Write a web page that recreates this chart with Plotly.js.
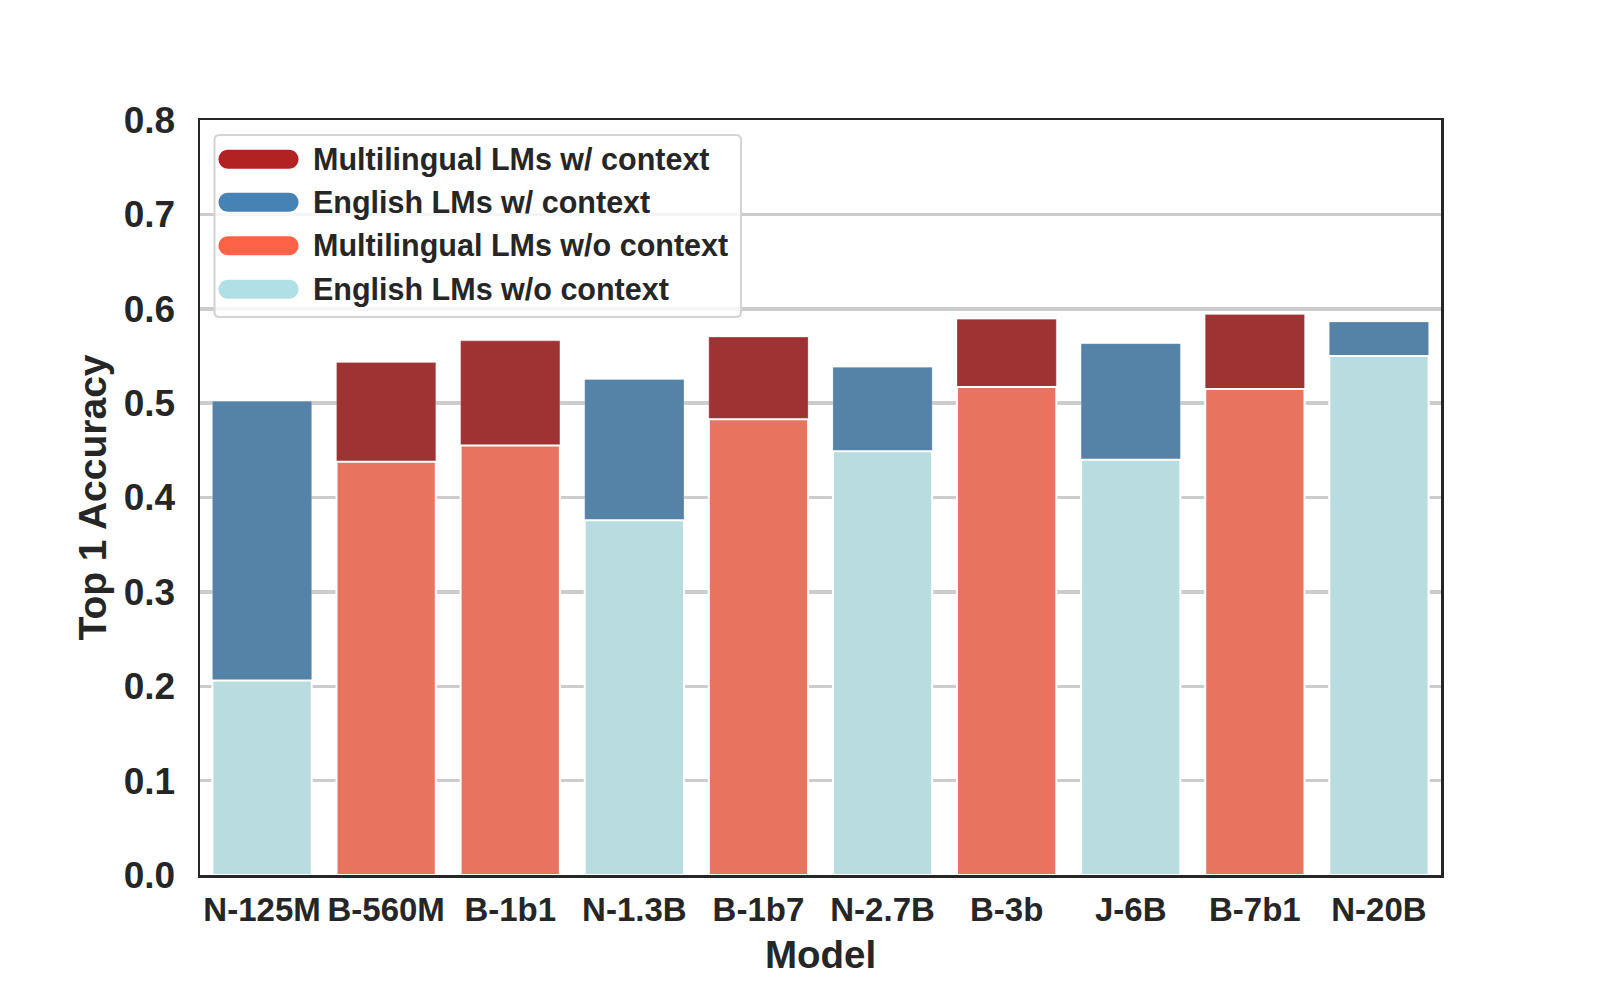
<!DOCTYPE html>
<html>
<head>
<meta charset="utf-8">
<script src="https://cdn.plot.ly/plotly-3.0.1.min.js"></script>
<style>
  html, body { margin: 0; padding: 0; background: #fff; }
  #chart { width: 1600px; height: 1000px; }
</style>
</head>
<body>
<div id="chart"></div>
<script>
// model names on the x axis
const models = ['N-125M', 'B-560M', 'B-1b1', 'N-1.3B', 'B-1b7', 'N-2.7B', 'B-3b', 'J-6B', 'B-7b1', 'N-20B'];
// true = multilingual LM (BLOOM), false = English LM
const multilingual = [false, true, true, false, true, false, true, false, true, false];
// top-1 accuracy with context / without context
const accWithCtx = [0.502, 0.543, 0.566, 0.525, 0.570, 0.538, 0.589, 0.563, 0.594, 0.586];
const accNoCtx = [0.206, 0.438, 0.455, 0.376, 0.483, 0.449, 0.517, 0.440, 0.515, 0.550];

const legendNames = ['Multilingual LMs w/ context', 'English LMs w/ context',
                     'Multilingual LMs w/o context', 'English LMs w/o context'];

// legend colours and the desaturated versions used on the bars
const legendColors = ['#b22222', '#4682b4', '#ff6347', '#b0e0e6'];
const barCtx = { multi: '#9f3334', eng: '#5582a7' };
const barNoCtx = { multi: '#e8735f', eng: '#b8dce0' };

const FONT = '"Liberation Sans", Arial, sans-serif';
const INK = '#262626';

const traces = [
  {
    type: 'bar', x: models, y: accWithCtx, width: 0.8, showlegend: false,
    marker: { color: multilingual.map(m => m ? barCtx.multi : barCtx.eng),
              line: { color: 'rgba(255,255,255,0.25)', width: 1 } },
    hoverinfo: 'x+y'
  },
  {
    type: 'bar', x: models, y: accNoCtx, width: 0.8, showlegend: false,
    marker: { color: multilingual.map(m => m ? barNoCtx.multi : barNoCtx.eng),
              line: { color: '#ffffff', width: 2 } },
    hoverinfo: 'x+y'
  }
];

// --- legend drawn by hand (thick rounded line swatches), pixel offsets from the plot's top-left corner
function pill(x0, x1, cy, r) {
  const k = 0.5523 * r;
  const t = cy + r, b = cy - r;
  return `M${x0},${t} L${x1},${t} ` +
    `C${x1 + k},${t} ${x1 + r},${cy + k} ${x1 + r},${cy} ` +
    `C${x1 + r},${cy - k} ${x1 + k},${b} ${x1},${b} ` +
    `L${x0},${b} ` +
    `C${x0 - k},${b} ${x0 - r},${cy - k} ${x0 - r},${cy} ` +
    `C${x0 - r},${cy + k} ${x0 - k},${t} ${x0},${t} Z`;
}
function roundRect(x0, x1, y0, y1, r) {
  // y0 top (higher), y1 bottom
  return `M${x0 + r},${y0} L${x1 - r},${y0} Q${x1},${y0} ${x1},${y0 - r} ` +
    `L${x1},${y1 + r} Q${x1},${y1} ${x1 - r},${y1} ` +
    `L${x0 + r},${y1} Q${x0},${y1} ${x0},${y1 + r} ` +
    `L${x0},${y0 - r} Q${x0},${y0} ${x0 + r},${y0} Z`;
}
const pixShape = { xref: 'paper', yref: 'paper', xsizemode: 'pixel', ysizemode: 'pixel',
                   xanchor: 0, yanchor: 1, layer: 'above' };
const itemY = [-39.3, -82.3, -125.7, -169.3];

const shapes = [
  Object.assign({}, pixShape, {
    type: 'path', path: roundRect(14.5, 541, -15, -197, 5),
    fillcolor: 'rgba(255,255,255,0.8)', line: { color: '#d3d3d3', width: 2 }
  })
];
const annotations = [];
legendNames.forEach((name, i) => {
  shapes.push(Object.assign({}, pixShape, {
    type: 'path', path: pill(28, 89, itemY[i], 9.5),
    fillcolor: legendColors[i], line: { width: 0 }
  }));
  annotations.push({
    xref: 'paper', yref: 'paper', x: 0, y: 1, xshift: 111, yshift: itemY[i],
    xanchor: 'left', yanchor: 'middle', showarrow: false, text: name,
    font: { size: 30.5, family: FONT, color: INK, weight: 'bold' }
  });
});

const layout = {
  width: 1600, height: 1000,
  margin: { l: 200, r: 159, t: 120, b: 125 },
  paper_bgcolor: '#ffffff', plot_bgcolor: '#ffffff',
  barmode: 'overlay', showlegend: false,
  font: { family: FONT, color: INK },
  xaxis: {
    range: [-0.5, 9.5],
    showline: true, mirror: true, linecolor: INK, linewidth: 2.5,
    showgrid: false, ticks: '', zeroline: false, ticklabelstandoff: 4,
    tickfont: { size: 33, family: FONT, color: INK, weight: 'bold' },
    title: { text: 'Model', font: { size: 38.5, family: FONT, color: INK, weight: 'bold' }, standoff: 14 }
  },
  yaxis: {
    range: [0, 0.8], dtick: 0.1, tickformat: '.1f',
    showline: true, mirror: true, linecolor: INK, linewidth: 2.5,
    showgrid: true, gridcolor: '#cccccc', gridwidth: 3.5,
    ticks: '', zeroline: false, ticklabelstandoff: 15,
    tickfont: { size: 37, family: FONT, color: INK, weight: 'bold' },
    title: { text: 'Top 1 Accuracy', font: { size: 39, family: FONT, color: INK, weight: 'bold' }, standoff: 5 }
  },
  shapes: shapes,
  annotations: annotations
};

Plotly.newPlot('chart', traces, layout, { displayModeBar: false, staticPlot: true });
</script>
</body>
</html>
